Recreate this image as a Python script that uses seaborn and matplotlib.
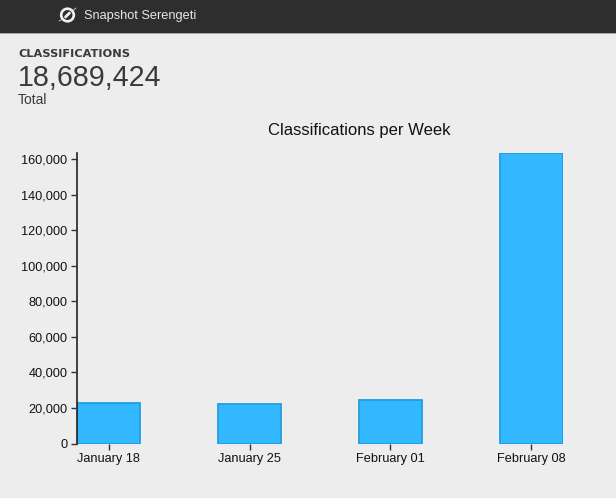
import matplotlib
matplotlib.use("Agg")
import matplotlib.pyplot as plt
from matplotlib.patches import Rectangle, Circle
from matplotlib.lines import Line2D
from matplotlib.ticker import FuncFormatter
import seaborn as sns
import pandas as pd

weeks = ["January 18", "January 25", "February 01", "February 08"]
classifications = [22800, 22000, 24500, 163400]
y_ticks = [0, 20000, 40000, 60000, 80000, 100000, 120000, 140000, 160000]

W, H = 616, 498
BG = "#ededed"
sns.set_theme(style="white")
plt.rcParams["font.family"] = ["Liberation Sans", "DejaVu Sans"]

fig = plt.figure(figsize=(W / 100, H / 100), dpi=100, facecolor=BG)
ax = fig.add_axes([77.0 / W, 1 - 443.5 / H, 486 / W, (443.5 - 153) / H])
ax.set_facecolor("none")

df = pd.DataFrame({"week": weeks, "classifications": classifications})
sns.barplot(data=df, x="week", y="classifications", ax=ax, color="#33b8ff",
            saturation=1, width=0.447, edgecolor="#1f9fe0", linewidth=1.3)
ax.set_xlim(-0.2235, 3.2235)
ax.set_ylim(0, 163400)
ax.set_xlabel("")
ax.set_ylabel("")
ax.set_yticks(y_ticks)
ax.yaxis.set_major_formatter(FuncFormatter(lambda v, _: f"{int(v):,}"))
ax.tick_params(axis="y", length=4.3, width=1, color="#333333", labelsize=9.2,
               labelcolor="#111111", pad=2.5, left=True)
ax.tick_params(axis="x", length=4.3, width=1, color="#333333", labelsize=9.2,
               labelcolor="#111111", pad=2.5, bottom=True)
for s in ("top", "right", "bottom"):
    ax.spines[s].set_visible(False)
ax.spines["left"].set_color("#222222")
ax.spines["left"].set_linewidth(1.2)
ax.set_axisbelow(False)

def fx(px):
    return px / W
def fy(py):
    return 1 - py / H

fig.patches.append(Rectangle((0, fy(33)), 1, 33 / H, transform=fig.transFigure,
                             facecolor="#2e2e2e", edgecolor="none"))
fig.patches.append(Rectangle((0, fy(34)), 1, 1 / H, transform=fig.transFigure,
                             facecolor="#a8a8a8", edgecolor="none"))
# header logo
icon = fig.add_axes([fx(58), fy(24), 19 / W, 18 / H], zorder=5)
icon.set_xlim(58, 77)
icon.set_ylim(24, 6)
icon.axis("off")
icon.add_patch(Circle((67.5, 15), 6.3, facecolor="none", edgecolor="#f0f0f0", linewidth=1.9))
icon.add_line(Line2D([59, 62], [21, 19.5], color="#d8d8d8", linewidth=0.6))
icon.add_line(Line2D([73, 76], [10.5, 8], color="#d8d8d8", linewidth=0.6))
icon.add_line(Line2D([65.5, 69.5], [17, 13], color="#f0f0f0", linewidth=2.0))

fig.text(fx(84), fy(15.8), "Snapshot Serengeti", color="#e8e8e8", fontsize=9.2, va="center", ha="left")
fig.text(fx(18), fy(54), "CLASSIFICATIONS", color="#3a3a3a", fontsize=8.2, fontweight="bold",
         family="DejaVu Sans", va="center", ha="left")
fig.text(fx(18), fy(78), "18,689,424", color="#3a3a3a", fontsize=20.6, va="center", ha="left")
fig.text(fx(18), fy(100), "Total", color="#3a3a3a", fontsize=10, va="center", ha="left")
fig.text(fx(359.5), fy(130), "Classifications per Week", color="#111111", fontsize=12, va="center", ha="center")

fig.savefig("out.png", dpi=100, facecolor=BG)
